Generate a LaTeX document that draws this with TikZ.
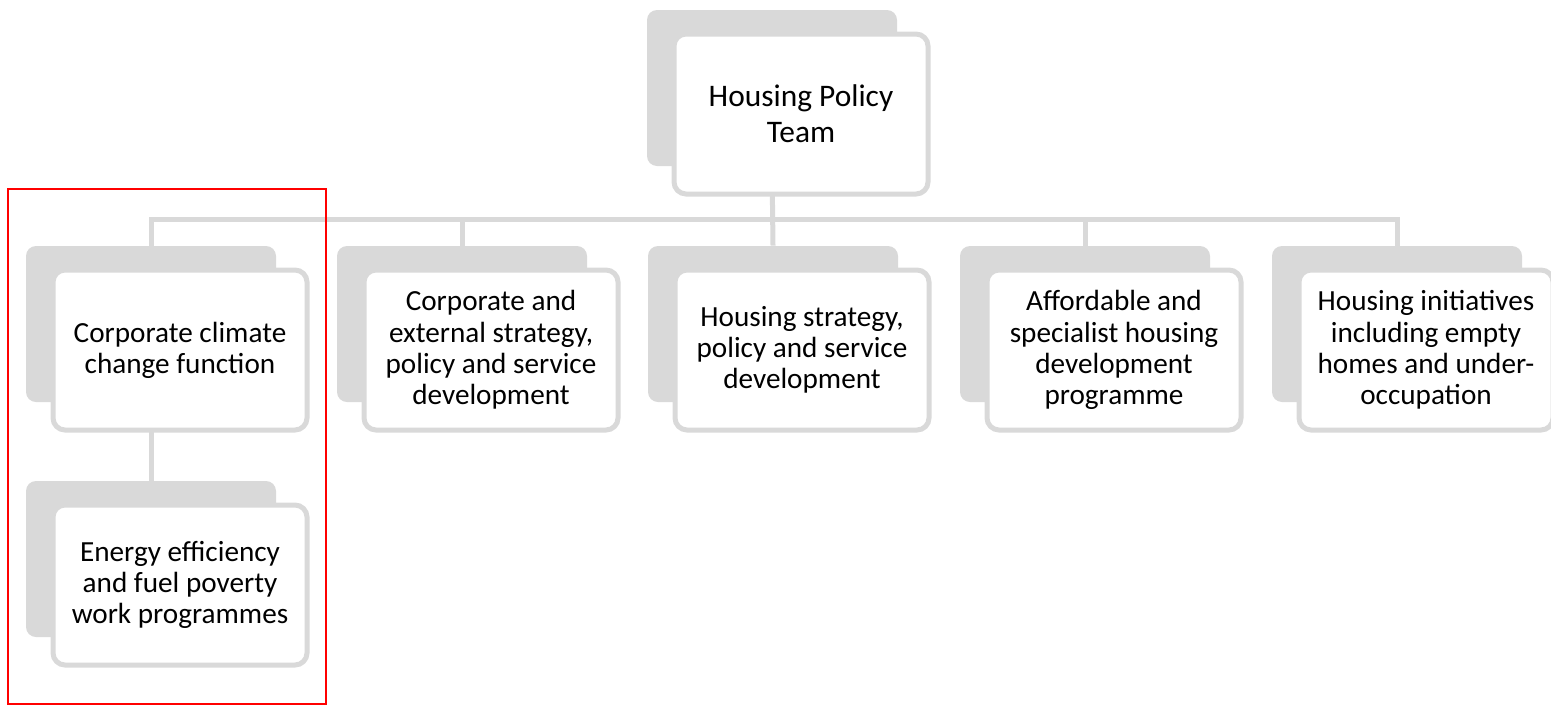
\documentclass[tikz,border=0pt]{standalone}
\usepackage{fontspec}
\setmainfont{Carlito}
\usetikzlibrary{positioning, backgrounds}
\definecolor{boxgrey}{RGB}{217,217,217}

\begin{document}
\begin{tikzpicture}[
    x=0.5pt, y=-0.5pt,
    back/.style={
      rectangle,
      rounded corners=5pt,
      fill=boxgrey,
      minimum width=125pt,
      minimum height=78pt,
      inner sep=0pt
    },
    front/.style={
      rectangle,
      rounded corners=6pt,
      draw=boxgrey,
      line width=2.5pt,
      fill=white,
      minimum width=127pt,
      minimum height=80pt,
      align=center,
      inner sep=0pt,
      font=\fontsize{14.6}{15.6}\selectfont
    },
    link/.style={draw=boxgrey, line width=2.5pt}
  ]

    \useasboundingbox (0,0) rectangle (1551,707);

    % Top: team
    \node[back] (hpb) at (772,88) {};
    \node[front, font=\fontsize{15.7}{18}\selectfont] (hp) at ([shift={(29,26)}]hpb.center) {Housing Policy\\Team};

    % Second row: functions
    \node[back] (ccb) at (151,324) {};
    \node[back] (csb) at (462,324) {};
    \node[back] (hsb) at (773,324) {};
    \node[back] (afb) at (1085,324) {};
    \node[back] (hib) at (1397,324) {};

    \node[front] (cc) at ([shift={(29,26)}]ccb.center) {Corporate climate\\change function};
    \node[front] (cs) at ([shift={(29,26)}]csb.center) {Corporate and\\external strategy,\\policy and service\\development};
    \node[front] (hs) at ([shift={(29,26)}]hsb.center) {Housing strategy,\\policy and service\\development};
    \node[front] (af) at ([shift={(29,26)}]afb.center) {Affordable and\\specialist housing\\development\\programme};
    \node[front] (hi) at ([shift={(29,26)}]hib.center) {Housing initiatives\\including empty\\homes and under-\\occupation};

    % Third row: under climate change
    \node[back] (eeb) at (151,559) {};
    \node[front] (ee) at ([shift={(29,26)}]eeb.center) {Energy efficiency\\and fuel poverty\\work programmes};

    % Connectors
    \coordinate (bus) at (0,219);
    \begin{scope}[on background layer]
      \draw[link] (hpb.south) -- (hpb.south |- bus) -| (ccb.north);
      \draw[link] (hpb.south) -- (hpb.south |- bus) -| (csb.north);
      \draw[link] (hpb.south) -- (hsb.north);
      \draw[link] (hpb.south) -- (hpb.south |- bus) -| (afb.north);
      \draw[link] (hpb.south) -- (hpb.south |- bus) -| (hib.north);
      \draw[link] (ccb.south) -- (eeb.north);
    \end{scope}

    % Highlight
    \draw[red, line width=1pt] (8,189) rectangle (326,704);

  \end{tikzpicture}
\end{document}
